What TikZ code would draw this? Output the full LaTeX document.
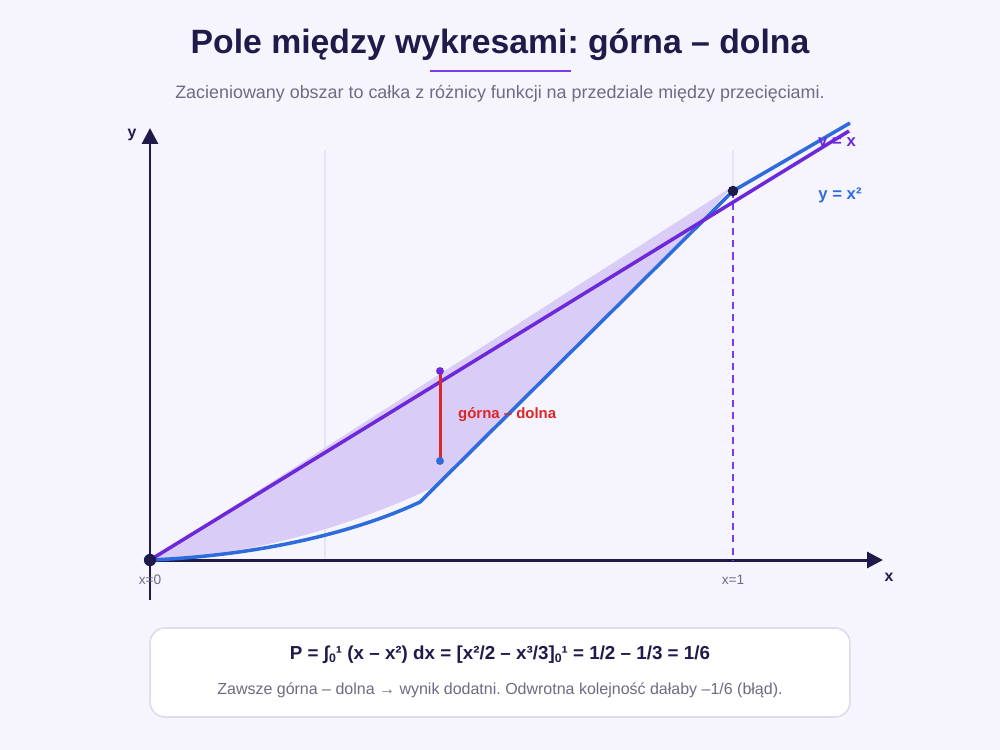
\documentclass[tikz,border=0pt]{standalone}
\usepackage{fontspec}
\setmainfont{Liberation Sans}
\usetikzlibrary{arrows.meta,positioning}
\frenchspacing

\definecolor{bgcol}{HTML}{F6F5FE}
\definecolor{ink}{HTML}{1E1B4B}
\definecolor{upper}{HTML}{6D28D9}
\definecolor{lower}{HTML}{2E6BDD}
\definecolor{shadecol}{HTML}{D9CDF8}
\definecolor{diffcol}{HTML}{DC2626}
\definecolor{muted}{HTML}{6E6B82}
\definecolor{gridcol}{HTML}{E7E4F4}
\definecolor{cardline}{HTML}{DEDAF0}
\definecolor{accent}{HTML}{7C3AED}

\tikzset{
  axis/.style={line width=1.7pt,draw=ink,-{Triangle[length=9pt,width=9pt]}},
  curveup/.style={line width=2pt,draw=upper},
  curvelow/.style={line width=2pt,draw=lower},
  dot/.style={circle,fill=#1,inner sep=0pt,minimum size=6pt},
  axlabel/.style={font=\bfseries\fontsize{9}{11}\selectfont,text=ink},
  tick/.style={font=\fontsize{7.8}{9}\selectfont,text=muted},
  card/.style={draw=cardline,line width=0.9pt,fill=white,rounded corners=8.5pt,
    minimum width=14cm,minimum height=1.78cm}
}

\begin{document}
\begin{tikzpicture}[x=0.02cm,y=-0.02cm]
        \useasboundingbox (0,0) rectangle (1000,750);
        \fill[bgcol] (0,0) rectangle (1000,750);

        % title
        \node[text=ink,font=\bfseries\fontsize{19.2}{23}\selectfont] (title) at (500,45) {Pole między wykresami: górna – dolna};
        \draw[accent,line width=1.7pt] (430,71) -- (571,71);
        \node[text=muted,font=\fontsize{10.2}{12}\selectfont] (subtitle) at (500,94) {Zacieniowany obszar to całka z różnicy funkcji na przedziale między przecięciami.};

        % faint grid lines
        \draw[gridcol,line width=0.6pt] (325,150) -- (325,560);
        \draw[gridcol,line width=0.6pt] (733,150) -- (733,190);

        \coordinate (O) at (150,560);
        \coordinate (B) at (733,191);
        \coordinate (kink) at (420,502);
        \coordinate (xfoot) at (733,560);

        % shaded area
        \fill[shadecol] (O) -- (733,186) -- (705,216) -- (432,488)
              .. controls (360,522) and (260,555) .. (O);

        % axes
        \draw[axis] (O) -- (883,560) coordinate (xend);
        \draw[axis] (150,600) -- (150,128) coordinate (yend);
        \node[axlabel] (ylab) at (132,135) {y};
        \node[axlabel] (xlab) at (889,577) {x};

        % x = 1 marker
        \draw[accent,line width=0.9pt,dash pattern=on 4pt off 3pt] (B) -- (xfoot);

        % the two graphs
        \draw[curvelow] (O) .. controls (250,556) and (350,535) .. (kink) -- (B) -- (850,123);
        \draw[curveup] (O) -- (849,131);

        \node[dot=ink,minimum size=7pt] (p0) at (O) {};
        \node[dot=ink] (p1) at (B) {};

        \node[tick] (t0) at (150,580) {x=0};
        \node[tick] (t1) at (733,580) {x=1};

        \node[text=upper,font=\bfseries\fontsize{9.5}{11}\selectfont] (lup) at (837,144) {y = x};
        \node[text=lower,font=\bfseries\fontsize{9.5}{11}\selectfont] (llow) at (840,195) {y = x²};

        % upper minus lower
        \coordinate (dtop) at (440,371);
        \coordinate (dbot) at (440,461);
        \draw[diffcol,line width=1.7pt] (dtop) -- (dbot);
        \node[dot=upper,minimum size=4.5pt] (dt) at (dtop) {};
        \node[dot=lower,minimum size=4.5pt] (db) at (dbot) {};
        \node[text=diffcol,font=\bfseries\fontsize{8.5}{10}\selectfont,anchor=west] (dlab) at (452,415) {górna – dolna};

        % result card
        \node[card] (card) at (500,672.5) {};
        \node[text=ink,font=\bfseries\fontsize{10.7}{12}\selectfont] (formula) at (500,655)
             {P = ∫{\fontsize{7}{8}\selectfont\raisebox{-0.25em}{0}}¹ (x – x²) dx = [x²/2 – x³/3]{\fontsize{7}{8}\selectfont\raisebox{-0.25em}{0}}¹ = 1/2 – 1/3 = 1/6};
        \node[text=muted,font=\fontsize{9.1}{11}\selectfont] (note) at (500,690)
             {Zawsze górna – dolna → wynik dodatni. Odwrotna kolejność dałaby –1/6 (błąd).};

      \end{tikzpicture}
\end{document}
